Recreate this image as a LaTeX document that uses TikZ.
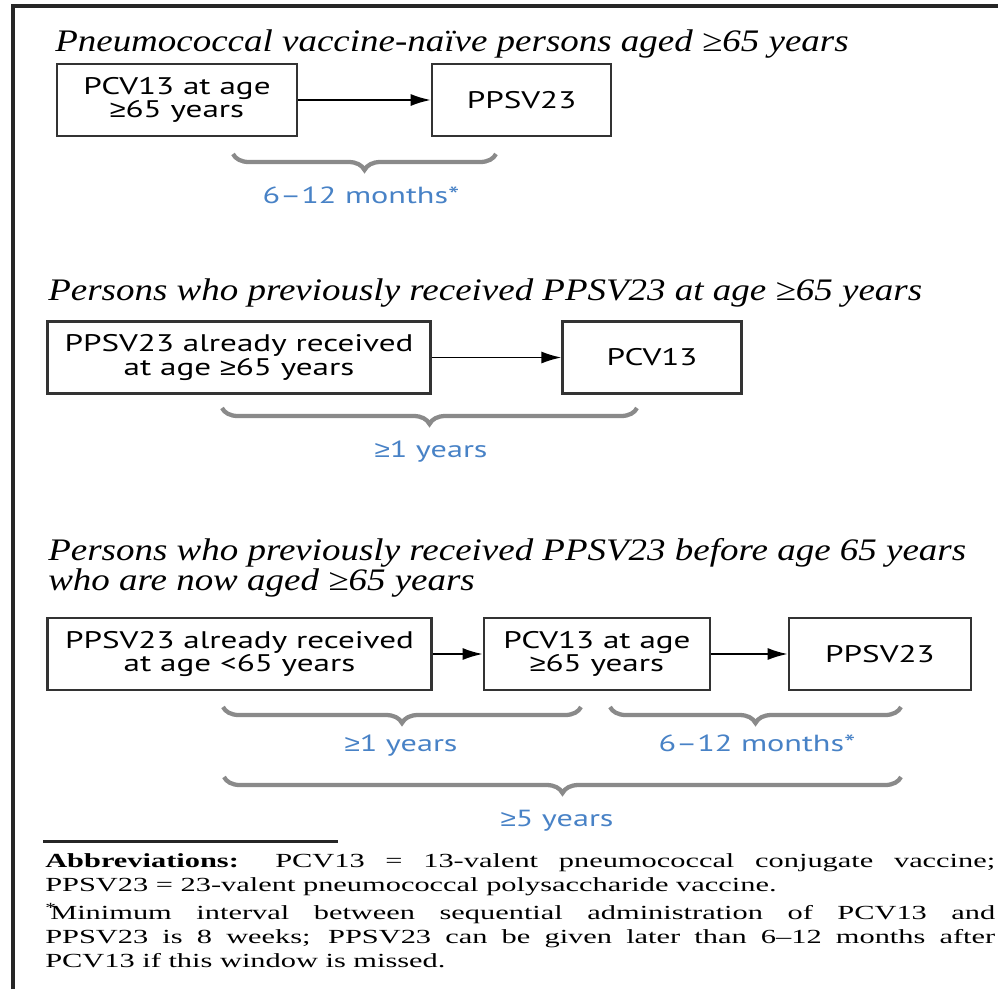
\documentclass[tikz,border=0pt]{standalone}
\usepackage{fontspec}
\setmainfont{Liberation Serif}[FakeStretch=1.52]
\newfontfamily\headfont{Liberation Serif}[FakeStretch=1.18]
\newfontfamily\boxfont{PT Sans}[FakeStretch=1.38]
\newfontfamily\signfont{Liberation Sans}[FakeStretch=1.2]
\newcommand{\atleast}{{\signfont ≥}}
\usetikzlibrary{shapes,arrows.meta,decorations.pathreplacing}
\definecolor{spanblue}{RGB}{72,130,198}
\definecolor{spangray}{RGB}{138,138,138}
\tikzstyle{heading} = [anchor=base west, inner sep=0, align=left, font=\headfont\itshape\fontsize{23.5}{21}\selectfont]
\tikzstyle{dose} = [draw=black!80, line width=2pt, rectangle, text centered, align=center, minimum height=54pt, inner sep=0, font=\boxfont\fontsize{18}{17.5}\selectfont]
\tikzstyle{line} = [draw, line width=1.3pt, -{Latex[length=15pt,width=9pt]}]
\tikzstyle{span} = [draw=spangray, line width=3.2pt, decorate, decoration={brace, mirror, amplitude=12pt}]
\tikzstyle{interval} = [anchor=base, inner sep=0, text=spanblue, font=\boxfont\fontsize{17.5}{21}\selectfont]
\tikzstyle{note} = [anchor=base west, inner sep=0, text width=712.5pt, align=justify, font=\fontsize{15}{18}\selectfont]

\begin{document}
\begin{tikzpicture}[x=0.75pt, y=-0.75pt]
    \useasboundingbox (0,0) rectangle (998,989);
    \draw [line width=3pt, black!85] (13,989) -- (13,6) -- (998,6);

    \node [heading] (naive-title) at (55,51) {Pneumococcal vaccine-naïve persons aged ≥65 years};
    \node [dose, minimum width=180pt] at (177,100) (naive-pcv){PCV13 at age\\\atleast65 years};
    \node [dose, minimum width=134.25pt, right of=naive-pcv, node distance=258.4pt] (naive-ppsv){PPSV23};
    \path [line] (naive-pcv) -- (naive-ppsv);
    \draw [span] (233,154) -- (496,154);
    \node [interval] (naive-gap) at (361,203) {6–12 months*};

    \node [heading] (old-title) at (48,300) {Persons who previously received PPSV23 at age ≥65 years};
    \node [dose, minimum width=287.25pt] at (239,357.5) (old-ppsv){PPSV23 already received\\at age \atleast65 years};
    \node [dose, minimum width=133.9pt, right of=old-ppsv, node distance=309.75pt] (old-pcv){PCV13};
    \path [line] (old-ppsv) -- (old-pcv);
    \draw [span] (222,408) -- (637,408);
    \node [interval] (old-gap) at (431,457) {\atleast1 years};

    \node [heading] (young-title) at (48,590) {Persons who previously received PPSV23 before age 65 years\\who are now aged ≥65 years};
    \node [dose, minimum width=288pt] at (239.5,654) (young-ppsv){PPSV23 already received\\at age <65 years};
    \node [dose, minimum width=169.5pt, right of=young-ppsv, node distance=268.1pt] (young-pcv){PCV13 at age\\\atleast65 years};
    \node [dose, minimum width=136.5pt, right of=young-pcv, node distance=212.25pt] (young-ppsv2){PPSV23};
    \path [line] (young-ppsv) -- (young-pcv);
    \path [line] (young-pcv) -- (young-ppsv2);
    \draw [span] (223,707) -- (581,707);
    \draw [span] (610,707) -- (901,707);
    \draw [span] (224,777) -- (901,777);
    \node [interval] (young-gap1) at (401,751) {\atleast1 years};
    \node [interval] (young-gap2) at (757,751) {6–12 months*};
    \node [interval] (young-gap3) at (557,826) {\atleast5 years};

    \draw [line width=2.25pt, black!85] (43,841) -- (338,841);
    \node [note] (notes) at (45,867) {\textbf{Abbreviations:} PCV13 = 13-valent pneumococcal conjugate vaccine;\linebreak PPSV23 = 23-valent pneumococcal polysaccharide vaccine.\par
        \vspace{3pt}\hangindent=3.75pt\hangafter=1\noindent\makebox[3.75pt][l]{\textsuperscript{*}}Minimum interval between sequential administration of PCV13 and\linebreak PPSV23 is 8 weeks; PPSV23 can be given later than 6–12 months after\linebreak PCV13 if this window is missed.};
\end{tikzpicture}
\end{document}
